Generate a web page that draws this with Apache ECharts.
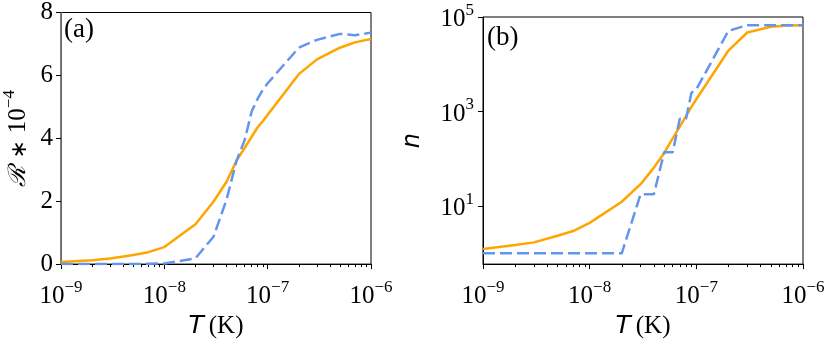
<!DOCTYPE html>
<html>
<head>
<meta charset="utf-8">
<script src="https://cdn.jsdelivr.net/npm/echarts@6/dist/echarts.min.js"></script>
<style>
  html, body { margin: 0; padding: 0; background: #fff; }
  #main { width: 829px; height: 344px; }
</style>
</head>
<body>
<div id="main"></div>
<script>
// temperatures (K)
var temps = [1e-9, 2e-9, 3e-9, 5e-9, 7e-9, 1e-8, 2e-8, 3e-8, 4e-8, 5e-8, 6e-8, 7e-8, 8e-8, 9e-8, 1e-7, 2e-7, 3e-7, 5e-7, 7e-7, 1e-6];

// panel (a): R * 10^-4
var rSolid  = [0.07, 0.12, 0.18, 0.29, 0.38, 0.54, 1.27, 1.99, 2.62, 3.29, 3.70, 4.05, 4.35, 4.55, 4.75, 6.04, 6.51, 6.88, 7.05, 7.16];
var rDashed = [0, 0, 0, 0, 0.01, 0.02, 0.18, 0.88, 2.05, 3.29, 3.95, 4.85, 5.26, 5.55, 5.75, 6.88, 7.13, 7.32, 7.28, 7.36];

// panel (b): n
var nSolid  = [1.23, 1.5, 1.7, 2.35, 2.95, 4.4, 12.3, 29, 65, 133, 270, 480, 800, 1250, 1820, 19500, 47000, 62000, 66000, 67000];
var nDashed = [1, 1, 1, 1, 1, 1, 1, 17.8, 17.8, 138, 138, 700, 700, 2500, 2950, 51000, 67000, 67000, 67000, 67000];

// tick labels
var xMajor = [1e-9, 1e-8, 1e-7, 1e-6];
var xMinor = [];
[1e-9, 1e-8, 1e-7].forEach(function (d) {
  for (var k = 2; k <= 9; k++) xMinor.push(k * d);
});
var yTicksA = [0, 2, 4, 6, 8];
var yTicksB = [1e1, 1e3, 1e5];

var SERIF = 'Liberation Serif';
var ORANGE = '#FFA500';
var BLUE = '#6495ED';

function pairs(xs, ys) {
  return xs.map(function (x, i) { return [x, ys[i]]; });
}

function powLabel(v) {
  var e = Math.round(Math.log10(v));
  return '{b|10}{s|' + (e < 0 ? '\u2212' : '') + Math.abs(e) + '}';
}

var powRich = {
  b: { fontFamily: SERIF, fontSize: 25, color: '#000', lineHeight: 30, verticalAlign: 'bottom' },
  s: { fontFamily: SERIF, fontSize: 17, color: '#000', lineHeight: 18, verticalAlign: 'top' }
};

var nameRichT = {
  t: { fontFamily: 'DejaVu Sans', fontStyle: 'italic', fontSize: 25, color: '#000' },
  k: { fontFamily: SERIF, fontSize: 25, color: '#000', padding: [0, 0, 0, 5] }
};

function majorX(grid) {
  return {
    type: 'log', gridIndex: grid, position: 'bottom',
    min: 1e-9, max: 1e-6, logBase: 10,
    axisLine: { show: true, lineStyle: { color: '#000', width: 1 } },
    axisTick: { show: true, length: 5, customValues: xMajor, lineStyle: { color: '#000' } },
    axisLabel: { customValues: xMajor, margin: 15, fontFamily: SERIF, formatter: powLabel, rich: powRich },
    splitLine: { show: false },
    name: '{t|T}{k|(K)}', nameLocation: 'middle', nameGap: 44,
    nameTextStyle: { rich: nameRichT }
  };
}

function minorX(grid) {
  return {
    type: 'log', gridIndex: grid, position: 'bottom',
    min: 1e-9, max: 1e-6, logBase: 10,
    axisLine: { show: false },
    axisTick: { show: true, length: 3, customValues: xMinor, lineStyle: { color: '#000' } },
    axisLabel: { show: false },
    splitLine: { show: false }
  };
}

var chart = echarts.init(document.getElementById('main'), null, { renderer: 'canvas' });

var option = {
  backgroundColor: '#fff',
  animation: false,
  textStyle: { fontFamily: SERIF },
  grid: [
    { left: 60, right: 458, top: 9, bottom: 78, show: true, borderColor: '#000', borderWidth: 1 },
    { left: 483, right: 26, top: 17, bottom: 76, show: true, borderColor: '#000', borderWidth: 1 }
  ],
  xAxis: [majorX(0), minorX(0), majorX(1), minorX(1)],
  yAxis: [
    {
      type: 'value', gridIndex: 0, min: 0, max: 8, interval: 2,
      axisLine: { show: true, lineStyle: { color: '#666', width: 1 } },
      axisTick: { show: true, length: 5, customValues: yTicksA, lineStyle: { color: '#000' } },
      axisLabel: { customValues: yTicksA, margin: 8, fontFamily: SERIF, fontSize: 25, color: '#000' },
      splitLine: { show: false },
      name: '{r|\u211B}{a| \u2217 }{b|10}{s|\u22124}',
      nameLocation: 'middle', nameGap: 30, nameRotate: 90,
      nameTextStyle: {
        rich: {
          r: { fontFamily: 'DejaVu Serif', fontStyle: 'italic', fontSize: 24, color: '#000', lineHeight: 30, verticalAlign: 'bottom' },
          a: { fontFamily: 'DejaVu Sans', fontSize: 22, color: '#000', lineHeight: 30, verticalAlign: 'bottom' },
          b: { fontFamily: SERIF, fontSize: 25, color: '#000', lineHeight: 30, verticalAlign: 'bottom' },
          s: { fontFamily: SERIF, fontSize: 17, color: '#000', lineHeight: 18, verticalAlign: 'top' }
        }
      }
    },
    {
      type: 'log', gridIndex: 1, min: 0.59, max: 1e5, logBase: 10,
      axisLine: { show: true, lineStyle: { color: '#000', width: 1 } },
      axisTick: { show: true, length: 5, customValues: yTicksB, lineStyle: { color: '#000' } },
      axisLabel: { customValues: yTicksB, margin: 9, fontFamily: SERIF, formatter: powLabel, rich: powRich },
      splitLine: { show: false },
      name: 'n', nameLocation: 'middle', nameGap: 58, nameRotate: 90,
      nameTextStyle: { fontFamily: 'DejaVu Sans', fontStyle: 'italic', fontSize: 24, color: '#000' }
    }
  ],
  graphic: [
    { type: 'text', left: 64, top: 16, style: { text: '(a)', font: '27px "Liberation Serif"', fill: '#000' } },
    { type: 'text', left: 487, top: 24, style: { text: '(b)', font: '27px "Liberation Serif"', fill: '#000' } }
  ],
  series: [
    {
      type: 'line', xAxisIndex: 0, yAxisIndex: 0, data: pairs(temps, rSolid),
      showSymbol: false, lineStyle: { color: ORANGE, width: 2.5 }, z: 2
    },
    {
      type: 'line', xAxisIndex: 0, yAxisIndex: 0, data: pairs(temps, rDashed),
      showSymbol: false, lineStyle: { color: BLUE, width: 2.5, type: [12, 5] }, z: 3
    },
    {
      type: 'line', xAxisIndex: 2, yAxisIndex: 1, data: pairs(temps, nSolid),
      showSymbol: false, lineStyle: { color: ORANGE, width: 2.5 }, z: 2
    },
    {
      type: 'line', xAxisIndex: 2, yAxisIndex: 1, data: pairs(temps, nDashed),
      showSymbol: false, lineStyle: { color: BLUE, width: 2.5, type: [12, 5] }, z: 3
    }
  ]
};

chart.setOption(option);
</script>
</body>
</html>
